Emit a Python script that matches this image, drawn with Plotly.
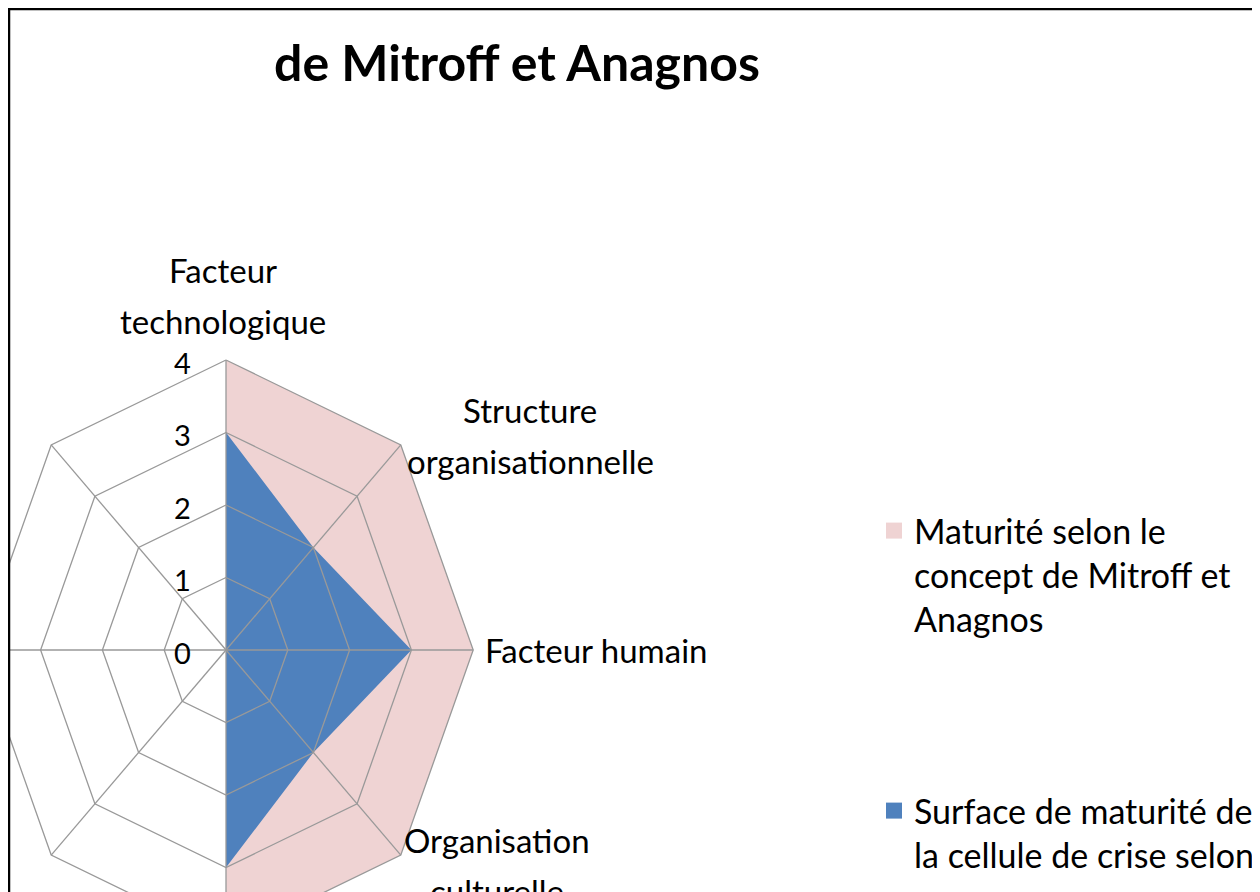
import numpy as np
import plotly.graph_objects as go

# ---------------- data ----------------
categories = [
    "Facteur<br>technologique",
    "Structure<br>organisationnelle",
    "Facteur humain",
    "Organisation<br>culturelle",
    "", "", "", "",
]
series_names = [
    "Maturité selon le<br>concept de Mitroff et<br>Anagnos",
    "Surface de maturité de<br>la cellule de crise selon",
]
maturite_concept = [4, 4, 4, 4, 4, 0, 0, 0]
maturite_cellule = [3, 2, 3, 2, 3, 0, 0, 0]
radial_levels = [0, 1, 2, 3, 4]
radial_tick_labels = ["0", "1", "2", "3", "4"]

# ---------------- styling / layout constants ----------------
OFF = 8                     # page body margin of the html page
W, H = 1260 - OFF, 892 - OFF
CX, CY = 226 - OFF, 650 - OFF   # radar centre (figure pixels)
SX, SY = 61.8, 72.5             # pixels per unit (x / y)
FONT = "Lato"
PINK = "#EFD3D3"
BLUE = "#4F81BD"
GRID = "#999999"

n = len(categories)
theta = np.deg2rad(np.arange(n) * 360.0 / n)


def to_xy(values):
    r = np.asarray(values, dtype=float)
    x = r * np.sin(theta)
    y = r * np.cos(theta)
    return np.append(x, x[0]), np.append(y, y[0])


def px(xp, yp):
    """page pixel -> data coordinates"""
    return (xp - OFF - CX) / SX, (CY - (yp - OFF)) / SY


fig = go.Figure()

# series (filled areas)
for vals, name, col in [(maturite_concept, series_names[0], PINK),
                        (maturite_cellule, series_names[1], BLUE)]:
    x, y = to_xy(vals)
    fig.add_trace(go.Scatter(x=x, y=y, mode="lines", fill="toself",
                             fillcolor=col, line=dict(width=0, color=col),
                             name=name, showlegend=False, legendgroup=name,
                             hoverinfo="skip"))

# grid (drawn over the areas, as in the original)
gx, gy = [], []
for lv in radial_levels[1:]:
    x, y = to_xy([lv] * n)
    gx += list(x) + [None]
    gy += list(y) + [None]
rmax = max(radial_levels)
for t in theta:
    gx += [0, rmax * np.sin(t), None]
    gy += [0, rmax * np.cos(t), None]
fig.add_trace(go.Scatter(x=gx, y=gy, mode="lines",
                         line=dict(color=GRID, width=1.3),
                         showlegend=False, hoverinfo="skip"))

# legend entries (square swatches)
for name, col, lg in [(series_names[0], PINK, "legend"),
                      (series_names[1], BLUE, "legend2")]:
    fig.add_trace(go.Scatter(x=[None], y=[None], mode="markers",
                             marker=dict(symbol="square", size=20, color=col),
                             name=name, legendgroup=name, legend=lg))

annotations = []
# radial tick labels
for lv, lab in zip(radial_levels, radial_tick_labels):
    x0, _ = px(193, 0)
    annotations.append(dict(x=x0, y=lv - 2 / SY, text=lab, showarrow=False,
                            xanchor="right", yanchor="middle",
                            font=dict(family=FONT, size=29, color="black")))

# category labels (line by line, Excel-like spacing)
label_pos = {
    0: (223, 270, "center"),
    1: (530, 410, "center"),
    2: (483, 650, "left"),
    3: (497, 840, "center"),
}
LINE = 51
for i, cat in enumerate(categories):
    if not cat or i not in label_pos:
        continue
    xp, yp, anc = label_pos[i]
    for j, line in enumerate(cat.split("<br>")):
        ax, ay = px(xp, yp + j * LINE)
        annotations.append(dict(x=ax, y=ay, text=line, showarrow=False,
                                xanchor=anc, yanchor="middle",
                                font=dict(family=FONT, size=33, color="black")))

xr = [(0 - CX) / SX, (W - CX) / SX]
yr = [(CY - H) / SY, CY / SY]

fig.update_layout(
    width=W, height=H,
    margin=dict(l=0, r=0, t=0, b=0),
    paper_bgcolor="white", plot_bgcolor="white",
    xaxis=dict(range=xr, visible=False, fixedrange=True),
    yaxis=dict(range=yr, visible=False, fixedrange=True),
    title=dict(text="<b>de Mitroff et Anagnos</b>", x=(517 - OFF) / W,
               xanchor="center", y=1 - (63 - OFF) / H, yanchor="middle",
               font=dict(family=FONT, size=50, color="black")),
    annotations=annotations,
    legend=dict(x=(874 - OFF) / W, y=1 - (502 - OFF) / H, xanchor="left",
                yanchor="top", valign="top",
                font=dict(family=FONT, size=34, color="black"),
                bgcolor="rgba(0,0,0,0)", itemclick=False),
    legend2=dict(x=(874 - OFF) / W, y=1 - (782 - OFF) / H, xanchor="left",
                 yanchor="top", valign="top",
                 font=dict(family=FONT, size=34, color="black"),
                 bgcolor="rgba(0,0,0,0)", itemclick=False),
    shapes=[dict(type="rect", xref="paper", yref="paper",
                 x0=1 / W, x1=(1257 - OFF) / W, y0=-0.2, y1=1 - 1 / H,
                 line=dict(color="black", width=2.5), layer="above")],
    showlegend=True,
)

fig.write_html("out.html")
